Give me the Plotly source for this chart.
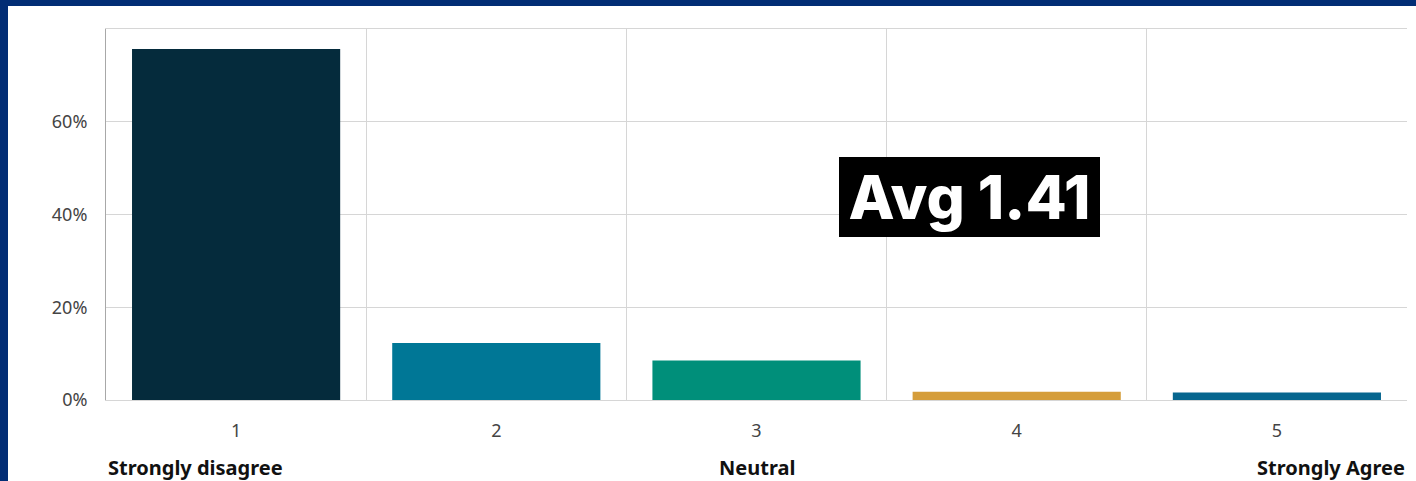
import plotly.graph_objects as go

# survey answer distribution
scores = [1, 2, 3, 4, 5]
score_labels = ["1", "2", "3", "4", "5"]
shares = [0.757, 0.123, 0.085, 0.018, 0.016]
bar_colors = ["#052b3c", "#007796", "#008f7a", "#d59d3a", "#07668f"]
scale_labels = ["Strongly disagree", "Neutral", "Strongly Agree"]
avg_text = "Avg 1.41"

W, H = 1416, 481
ml, mr, mt, mb = 106, 9, 29, 81
pw = W - ml - mr
ph = H - mt - mb
navy = "#022d75"

fig = go.Figure()
fig.add_trace(go.Bar(x=scores, y=shares, width=0.8,
                     marker=dict(color=bar_colors, line=dict(width=0)),
                     hoverinfo="skip"))

tick_font = dict(family="Noto Sans, Open Sans, sans-serif", size=18, color="#444444")

fig.update_xaxes(range=[0.5, 5.5], tickvals=scores, ticktext=score_labels,
                 showgrid=False, zeroline=False, ticks="",
                 showline=True, mirror=True, linecolor="#d6d6d6", linewidth=1,
                 ticklabelstandoff=14, tickfont=tick_font,
                 minor=dict(tickvals=[0.5, 1.5, 2.5, 3.5, 4.5, 5.5], showgrid=True,
                            gridcolor="#d6d6d6", gridwidth=1, ticks=""))
fig.update_yaxes(range=[0, 0.8], tickvals=[0, 0.2, 0.4, 0.6], tickformat=".0%",
                 showgrid=True, gridcolor="#d6d6d6", gridwidth=1, zeroline=False,
                 showline=True, linecolor="#a8a8a8", linewidth=1,
                 ticklabelstandoff=14, tickfont=tick_font)

bold = dict(family="Noto Sans, Open Sans, sans-serif", size=20, color="#111111", weight="bold")
fig.add_annotation(text=f"<b>{scale_labels[0]}</b>", xref="paper", yref="paper",
                   x=0.0, y=-0.183, xanchor="left", yanchor="middle", showarrow=False, font=bold)
fig.add_annotation(text=f"<b>{scale_labels[1]}</b>", xref="paper", yref="paper",
                   x=0.5, y=-0.183, xanchor="center", yanchor="middle", showarrow=False, font=bold)
fig.add_annotation(text=f"<b>{scale_labels[2]}</b>", xref="paper", yref="paper",
                   x=1.0, y=-0.183, xanchor="right", yanchor="middle", showarrow=False, font=bold)

fig.add_annotation(text=avg_text, xref="paper", yref="paper",
                   x=(969.5 - ml) / pw, y=(400 - 197) / ph, xanchor="center", yanchor="middle",
                   showarrow=False, bgcolor="black", borderpad=4, borderwidth=0,
                   width=253, height=72,
                   font=dict(family="Inter, Noto Sans, sans-serif", size=60, color="white",
                             weight=800))

# navy frame on the left and top edges of the page
fig.add_shape(type="rect", xref="paper", yref="paper", layer="above",
              x0=-ml / pw, x1=(8 - ml) / pw, y0=-mb / ph, y1=1 + mt / ph,
              fillcolor=navy, line=dict(width=0))
fig.add_shape(type="rect", xref="paper", yref="paper", layer="above",
              x0=-ml / pw, x1=1 + mr / pw, y0=1 + (mt - 6) / ph, y1=1 + mt / ph,
              fillcolor=navy, line=dict(width=0))

fig.update_layout(width=W, height=H, margin=dict(l=ml, r=mr, t=mt, b=mb),
                  paper_bgcolor="white", plot_bgcolor="white", showlegend=False,
                  bargap=0.2)

fig.write_html("out.html", config={"displayModeBar": False},
               post_script="document.body.style.margin='0';")
